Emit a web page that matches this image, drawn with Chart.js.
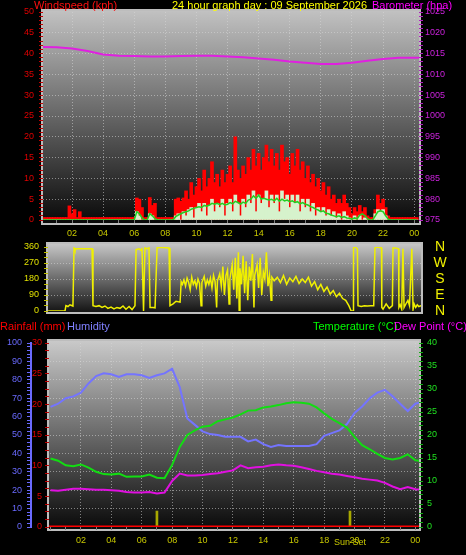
<!DOCTYPE html>
<html>
<head>
<meta charset="utf-8">
<title>24 hour graph</title>
<script src="https://cdn.jsdelivr.net/npm/chart.js@4.4.1/dist/chart.umd.min.js"></script>
<style>
  html, body { margin: 0; padding: 0; background: #000; }
  #wrap { position: relative; width: 466px; height: 555px; overflow: hidden; }
  #wrap canvas { position: absolute; left: 0; top: 0; }
</style>
</head>
<body>
<div id="wrap">
  <canvas id="windChart" width="466" height="555"></canvas>
  <canvas id="dirChart" width="466" height="555"></canvas>
  <canvas id="tempChart" width="466" height="555"></canvas>
</div>
<script>
// wind, 10 minute samples from 00:00
const windGust = [
  0.6,0.6,0.6,0.6,0.6,0.6,0.6,0.6,0.6,0.6,0.6,3.4,
  1.5,2.5,0.6,2.0,0.6,0.6,0.6,0.6,0.6,0.6,0.6,0.6,
  0.6,0.6,0.6,0.6,0.6,0.6,0.6,0.6,0.6,0.6,0.6,0.6,
  0.6,5.3,5.0,3.0,0.6,0.6,5.4,3.5,4.0,0.6,0.6,0.6,
  0.6,0.6,0.6,0.6,5.0,5.3,4.5,5.3,7,5,9,6,
  8,10,7,12,8,10,14,9,11,8,12,9,
  11,13,9,20,12,10,13,11,15,12,17,13,
  16,12,15,18,14,17,13,16,12,18,14,15,
  11,16,13,17,12,14,10,13,9,11,8,10,
  7,9,6,8,5,6,4,5,4,6,4,3,
  1.5,3,2,3.5,2,3,1,0.6,0.6,2.5,6,4,
  5,3,1,0.6,0.6,0.6,0.6,0.6,0.6,0.6,0.6,0.6,
  0.6,0.6
];
const windSpeed = [
  0,0,0,0,0,0,0,0,0,0,0,0,
  0,0,0,0,0,0,0,0,0,0,0,0,
  0,0,0,0,0,0,0,0,0,0,0,0,
  0,2.0,1.0,0,0,0,1.5,1.0,0,0,0,0,
  0,0,0,0,1.0,1.5,0,2,1,2.5,3,0.5,
  3,4,2,4,1,3.5,5,2,4,3,5,1,
  4,5,2,6,4,1,5,3,6,4,7,2,
  6,4,5,7,3,6,4,6,2,7,5,6,
  3,6,4,6,2,5,3,5,2,4,1,3,
  2,3,1,2.5,1,2,0.5,1.5,0,2,1,0.5,
  0,1,0,1,0,0.5,0,0,0,1.5,2.5,2,
  2.5,1,0,0,0,0,0,0,0,0,0,0,
  0,0
];
const windAvg = [
  0,0,0,0,0,0,0,0,0,0,0,0,
  0,0,0,0,0,0,0,0,0,0,0,0,
  0,0,0,0,0,0,0,0,0,0,0,0,
  0,2.0,1.5,0.5,0,0,1.5,1.0,0.3,0,0,0,
  0,0,0,0,0.8,1.2,1.5,1.8,2.0,2.2,2.6,2.8,
  3.0,3.2,3.0,3.5,3.3,3.6,4.0,3.8,4.0,3.7,4.0,3.6,
  3.8,4.2,3.9,4.5,4.2,3.8,4.3,4.0,4.8,5.0,5.8,5.2,
  6.0,5.0,5.2,5.0,4.8,5.0,4.6,5.2,4.5,5.0,4.6,4.8,
  4.4,4.6,4.2,4.4,3.9,4.2,3.8,3.6,3.2,3.0,2.6,2.4,
  2.0,2.2,1.6,1.5,1.2,1.0,0.8,1.0,0.6,0.8,0.5,0.4,
  0.2,0.5,0.3,1.2,1.5,1.0,0.3,0,0,1.0,2.0,2.2,
  2.0,1.0,0.2,0,0,0,0,0,0,0,0,0,
  0,0
];
const windHours = windGust.map((_, i) => i / 6);

// barometer, hourly
const baro = [1016.6,1016.5,1016.2,1015.6,1014.8,1014.5,1014.4,1014.3,1014.3,1014.4,1014.5,1014.5,1014.3,
              1014.1,1013.8,1013.5,1013.1,1012.8,1012.5,1012.5,1012.8,1013.3,1013.7,1014.0,1014.0,1014.0];
const baroHours = baro.map((_, i) => i);

// wind direction
const dirHours = [
  0.46,1.55,1.61,1.74,1.87,2.06,2.13,2.19,2.26,2.7,3.29,3.35,3.54,3.74,3.93,4.12,4.31,4.51,4.7,4.89,
  5.09,5.28,5.47,5.67,5.86,6.05,6.12,6.31,6.44,6.5,6.6,6.69,6.82,6.95,7.02,7.21,7.34,7.47,7.66,8.24,
  8.3,8.5,8.69,8.95,9.02,9.1,9.2,9.3,9.4,9.5,9.6,9.7,9.8,9.9,10.0,10.1,10.2,10.3,10.35,10.5,
  10.6,10.7,10.8,10.9,11.0,11.1,11.2,11.3,11.35,11.5,11.6,11.7,11.8,11.9,12.0,12.1,12.15,12.3,12.4,12.5,
  12.6,12.7,12.75,12.8,12.9,13.0,13.1,13.2,13.3,13.4,13.5,13.6,13.7,13.75,13.9,14.0,14.1,14.2,14.3,14.4,
  14.5,14.6,14.7,14.8,14.85,15.0,15.2,15.4,15.6,15.8,16.0,16.2,16.4,16.6,16.8,17.0,17.2,17.4,17.6,17.8,
  18.0,18.2,18.4,18.6,18.8,19.0,19.2,19.4,19.6,19.8,19.95,20.07,20.1,20.2,20.35,20.39,20.6,20.8,21.0,21.2,
  21.4,21.48,21.6,21.9,21.92,22.0,22.2,22.4,22.6,22.64,22.8,23.0,23.02,23.1,23.2,23.28,23.35,23.5,23.6,23.7,
  23.85,23.93,24.0,24.1,24.2,24.3,24.45
];
const dirDeg = [
  0,0,30,25,35,28,355,340,350,350,350,30,25,30,20,28,15,22,12,20,
  15,28,10,25,8,30,345,350,340,355,0,355,350,355,20,20,18,355,358,355,
  30,40,55,50,165,150,175,140,185,160,120,190,150,170,135,180,155,30,160,195,
  140,175,150,185,130,200,165,20,170,210,140,250,90,200,230,40,180,260,120,300,
  70,330,0,240,150,310,100,280,60,250,170,320,20,200,260,130,300,90,220,180,
  330,140,200,60,190,170,190,160,200,150,185,165,195,155,180,160,190,140,165,120,
  150,110,135,95,115,80,100,70,60,30,0,0,355,360,350,30,25,30,28,30,
  30,355,360,355,20,10,40,15,30,355,355,350,20,35,10,350,20,45,60,30,
  350,10,40,20,35,25,30
];
const dirLetters = ['N', 'W', 'S', 'E', 'N'];

// temperature / humidity / dew point, half-hourly
const humidity = [65.3,67,70,71,73,78,82,83.5,83,81.5,83,83,82.5,81,82.5,83.5,86,76,59,55.5,
                  52,50.5,50,49,49,49,46.5,47.5,45,43.5,44.5,44,44,44,44,45,49.5,51,52.5,56,
                  62,65.5,70,73,74.5,71,67,63,67,68];
const temperature = [14.9,14.4,13.4,13.2,13.6,12.9,12.0,11.5,11.4,11.6,10.9,11.0,11.0,11.4,10.7,10.6,13.5,17.4,20.0,21.0,
                     21.8,22.0,23.0,23.4,23.8,24.5,25.3,25.4,26.0,26.2,26.5,26.9,27.1,27.0,26.8,26.0,24.7,23.5,22.6,21.6,
                     19.6,17.8,16.9,15.9,15.0,14.7,15.0,15.8,14.5,14.3];
const dewPoint = [8.0,7.9,8.1,8.3,8.3,8.2,8.1,8.1,8.0,7.9,7.6,7.5,7.5,7.6,7.3,7.5,10.0,11.6,11.2,11.2,
                  11.3,11.5,11.7,12.0,12.3,13.4,12.8,13.0,13.1,13.4,13.6,13.4,13.3,13.0,12.6,12.2,11.9,11.6,11.4,11.1,
                  10.8,10.5,10.3,10.1,9.6,8.8,8.2,8.7,8.2,8.1];
const climateHours = humidity.map((_, i) => i / 2);
const rainHours = [-0.1, 24.3];
const rainfall = [0, 0];
const sunHours = [7.0, 19.7];   // sunrise, sunset

const FONT = "'Liberation Sans Narrow', 'Liberation Sans', Arial, sans-serif";
Chart.defaults.font.family = FONT;
Chart.defaults.font.size = 9;
Chart.defaults.animation = false;
Chart.defaults.plugins.legend.display = false;
Chart.defaults.plugins.tooltip.enabled = false;
Chart.defaults.elements.point.radius = 0;

const GRID = 'rgba(215,215,215,0.55)';
const XLAB = '#c8c800';

const pts = (xs, ys) => xs.map((x, i) => ({ x: x, y: ys[i] }));

// fixed axis thickness so the plot areas land where the original has them
function fixSize(size) {
    return scale => {
        if (scale.isHorizontal()) scale.height = size; else scale.width = size;
        scale.paddingTop = 0; scale.paddingBottom = 0;
        scale.paddingLeft = 0; scale.paddingRight = 0;
    };
}

function hourTick(v) {
    if (!Number.isInteger(v) || v % 2 !== 0 || v <= 0) return '';
    return String(v % 24).padStart(2, '0');
}

function every(n, lo, hi) {
    return c => (c.tick && c.tick.value % n === 0 && c.tick.value > lo && c.tick.value < hi) ? GRID : 'transparent';
}

function hourAxis(min, max, size) {
    return {
        type: 'linear', min: min, max: max, offset: false, afterFit: fixSize(size),
        ticks: { stepSize: 1, includeBounds: false, autoSkip: false, maxRotation: 0, color: XLAB, padding: 5, callback: hourTick },
        grid: { offset: false, color: every(2, 0, 24.5), tickColor: '#808080', tickLength: 3 },
        border: { display: false, dash: [1, 2] }
    };
}

function panelBg(top, bottom, ext) {
    return {
        id: 'panelBg',
        beforeDraw(chart) {
            const { ctx, chartArea: a } = chart;
            const x0 = a.left - ext[0], y0 = a.top - ext[1];
            const x1 = a.right + ext[2], y1 = a.bottom + ext[3];
            const g = ctx.createLinearGradient(0, y0, 0, y1);
            g.addColorStop(0, top);
            g.addColorStop(1, bottom);
            ctx.save();
            ctx.fillStyle = g;
            ctx.fillRect(x0, y0, x1 - x0, y1 - y0);
            ctx.strokeStyle = '#bdbdbd';
            ctx.lineWidth = 2;
            ctx.strokeRect(x0, y0, x1 - x0, y1 - y0);
            ctx.restore();
        }
    };
}

function titles(items) {
    return {
        id: 'titles',
        afterDraw(chart) {
            const ctx = chart.ctx;
            ctx.save();
            ctx.textBaseline = 'middle';
            items.forEach(t => {
                ctx.font = (t.size || 11) + 'px ' + FONT;
                ctx.fillStyle = t.color;
                ctx.textAlign = t.align || 'left';
                ctx.fillText(t.text, t.x, t.y);
            });
            ctx.restore();
        }
    };
}

// ---- windspeed / barometer ----
new Chart(document.getElementById('windChart'), {
    type: 'bar',
    data: {
        datasets: [
            { type: 'line', label: 'Barometer', data: pts(baroHours, baro), yAxisID: 'yBaro',
              borderColor: '#e020e0', borderWidth: 2, order: 1 },
            { type: 'line', label: 'Average', data: pts(windHours, windAvg), yAxisID: 'yWind',
              borderColor: '#22d022', borderWidth: 1.5, order: 2 },
            { label: 'Wind speed', data: pts(windHours, windSpeed), yAxisID: 'yWind',
              backgroundColor: '#d6f2cc', grouped: false, barThickness: 3, order: 3 },
            { label: 'Gust', data: pts(windHours, windGust), yAxisID: 'yWind',
              backgroundColor: '#ff0000', grouped: false, barThickness: 3, order: 4 }
        ]
    },
    options: {
        responsive: false,
        layout: { padding: { top: 12, bottom: 315, left: 0, right: 0 } },
        scales: {
            x: hourAxis(0.135, 24.31, 20),
            yWind: {
                position: 'left', min: 0, max: 50, afterFit: fixSize(43),
                ticks: { stepSize: 1, autoSkip: false, color: '#e00000', padding: 5, callback: v => v % 5 === 0 ? v : '' },
                grid: { color: every(5, 0, 50), tickColor: '#c00000', tickLength: 4 },
                border: { display: false, dash: [1, 2] }
            },
            yBaro: {
                position: 'right', min: 975, max: 1025, afterFit: fixSize(47),
                ticks: { stepSize: 1, autoSkip: false, color: '#cc22dd', padding: 2, callback: v => v % 5 === 0 ? v : '' },
                grid: { drawOnChartArea: false, tickColor: '#b020c0', tickLength: 4 },
                border: { display: false }
            }
        }
    },
    plugins: [
        panelBg('#c2c2c2', '#080808', [1, 2, 1, 4]),
        titles([
            { text: 'Windspeed (kph)', x: 34, y: 6, color: '#ff1010' },
            { text: '24 hour graph day : 09 September 2026', x: 172, y: 6, color: '#ffff00' },
            { text: 'Barometer (hpa)', x: 372, y: 6, color: '#ff00ff' }
        ])
    ]
});

// ---- wind direction ----
new Chart(document.getElementById('dirChart'), {
    type: 'line',
    data: {
        datasets: [{ label: 'Direction', data: pts(dirHours, dirDeg), borderColor: '#f0f000', borderWidth: 1.5 }]
    },
    options: {
        responsive: false,
        layout: { padding: { top: 247, bottom: 244, left: 0, right: 45 } },
        scales: {
            x: { type: 'linear', min: 0.457, max: 24.44, display: false },
            y: {
                min: 0, max: 360, afterFit: fixSize(48),
                ticks: { stepSize: 30, autoSkip: false, color: '#e0e000', padding: 5, callback: v => v % 90 === 0 ? v : '' },
                grid: { color: every(90, 0, 360), tickColor: '#c0c000', tickLength: 4 },
                border: { display: false, dash: [1, 2] }
            }
        }
    },
    plugins: [
        panelBg('#c8c8c8', '#121212', [1, 4, 1, 2]),
        {
            id: 'compass',
            afterDraw(chart) {
                const { ctx, scales: { y } } = chart;
                ctx.save();
                ctx.font = '14px ' + FONT;
                ctx.fillStyle = '#f0f000';
                ctx.textAlign = 'center';
                ctx.textBaseline = 'middle';
                dirLetters.forEach((l, i) => ctx.fillText(l, 440, y.getPixelForValue(360 - i * 90)));
                ctx.restore();
            }
        }
    ]
});

// ---- rain / humidity / temperature / dew point ----
new Chart(document.getElementById('tempChart'), {
    type: 'line',
    data: {
        datasets: [
            { label: 'Rainfall', data: pts(rainHours, rainfall), yAxisID: 'yRain',
              borderColor: '#ff0000', borderWidth: 3, order: 1 },
            { type: 'bar', label: 'Sun', data: sunHours.map(h => ({ x: h, y: 2.6 })), yAxisID: 'yRain',
              backgroundColor: '#a8a800', barThickness: 2, order: 5 },
            { label: 'Humidity', data: pts(climateHours, humidity), yAxisID: 'yHum',
              borderColor: '#7474ff', borderWidth: 2, order: 4 },
            { label: 'Temperature', data: pts(climateHours, temperature), yAxisID: 'yTemp',
              borderColor: '#12dd12', borderWidth: 2, order: 3 },
            { label: 'Dew Point', data: pts(climateHours, dewPoint), yAxisID: 'yTemp',
              borderColor: '#e010e0', borderWidth: 2, order: 2 }
        ]
    },
    options: {
        responsive: false,
        layout: { padding: { top: 343, bottom: 3, left: 0, right: 0 } },
        scales: {
            x: hourAxis(-0.1, 24.24, 25),
            yHum: {
                position: 'left', weight: 1, min: 0, max: 100, afterFit: fixSize(31),
                ticks: { stepSize: 2, autoSkip: false, color: '#6a6aff', padding: 5, callback: v => v % 10 === 0 ? v : '' },
                grid: { color: every(10, 0, 100), tickColor: '#6a6aff', tickLength: 4 },
                border: { display: true, color: '#6a6aff', width: 2, dash: [1, 2] }
            },
            yRain: {
                position: 'left', weight: 0, min: 0, max: 30, afterFit: fixSize(18),
                ticks: { stepSize: 1.25, autoSkip: false, color: '#e00000', padding: 3, callback: v => v % 5 === 0 ? v : '' },
                grid: { drawOnChartArea: false, tickColor: '#c00000', tickLength: 4 },
                border: { display: false }
            },
            yTemp: {
                position: 'right', min: 0, max: 40, afterFit: fixSize(47),
                ticks: { stepSize: 1, autoSkip: false, color: '#20e020', padding: 4, callback: v => v % 5 === 0 ? v : '' },
                grid: { drawOnChartArea: false, tickColor: '#10b010', tickLength: 4 },
                border: { display: false }
            }
        }
    },
    plugins: [
        panelBg('#cacaca', '#080808', [1, 3, 1, 3]),
        titles([
            { text: 'Rainfall (mm)', x: 0, y: 327, color: '#ff0000' },
            { text: 'Humidity', x: 67, y: 327, color: '#8080ff' },
            { text: 'Temperature (°C)', x: 313, y: 327, color: '#00ff00' },
            { text: 'Dew Point (°C)', x: 394, y: 327, color: '#ff00ff' }
        ]),
        {
            id: 'sunset',
            afterDraw(chart) {
                const { ctx, scales: { x } } = chart;
                ctx.save();
                ctx.font = '9px ' + FONT;
                ctx.fillStyle = XLAB;
                ctx.textAlign = 'center';
                ctx.textBaseline = 'middle';
                ctx.fillText('Sun Set', x.getPixelForValue(sunHours[1]), 543);
                ctx.restore();
            }
        }
    ]
});
</script>
</body>
</html>
